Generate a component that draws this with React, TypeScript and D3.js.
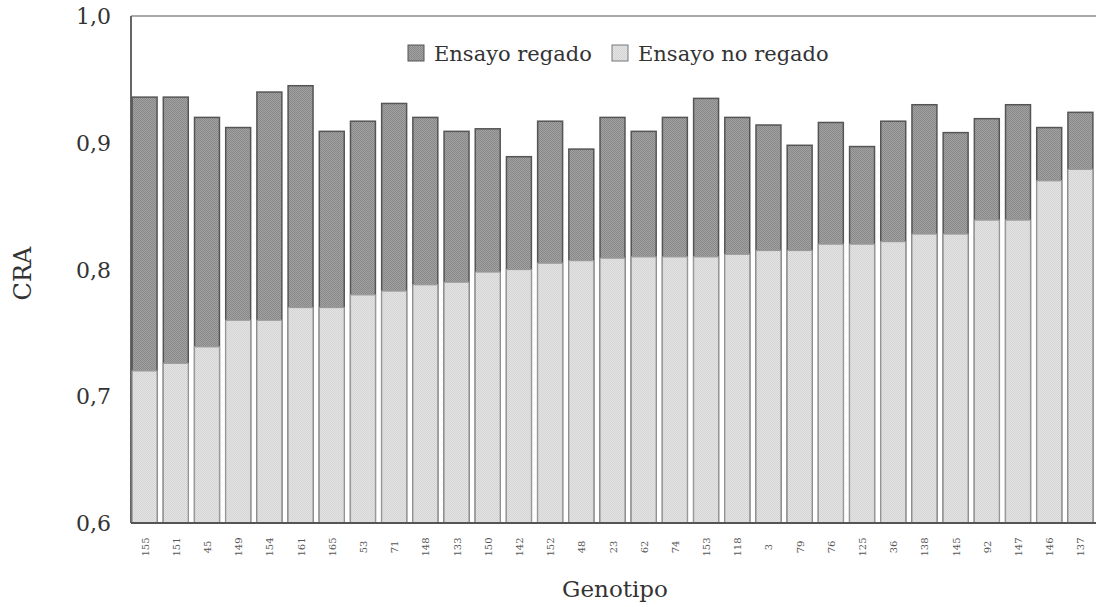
import { scaleBand, scaleLinear } from "d3";

const genotipos = ["155", "151", "45", "149", "154", "161", "165", "53", "71", "148", "133", "150", "142", "152", "48", "23", "62", "74", "153", "118", "3", "79", "76", "125", "36", "138", "145", "92", "147", "146", "137"];
const regado = [0.936, 0.936, 0.92, 0.912, 0.94, 0.945, 0.909, 0.917, 0.931, 0.92, 0.909, 0.911, 0.889, 0.917, 0.895, 0.92, 0.909, 0.92, 0.935, 0.92, 0.914, 0.898, 0.916, 0.897, 0.917, 0.93, 0.908, 0.919, 0.93, 0.912, 0.924];
const noRegado = [0.72, 0.726, 0.739, 0.76, 0.76, 0.77, 0.77, 0.78, 0.783, 0.788, 0.79, 0.798, 0.8, 0.805, 0.807, 0.809, 0.81, 0.81, 0.81, 0.812, 0.815, 0.815, 0.82, 0.82, 0.822, 0.828, 0.828, 0.839, 0.839, 0.87, 0.879];
const yTicks = [0.6, 0.7, 0.8, 0.9, 1.0];

const W = 1096;
const H = 607;
const left = 131;
const top = 16;
const bottom = 523;

export default function App() {
  const x = scaleBand<string>().domain(genotipos).range([129, 1096]).paddingInner(0.2).paddingOuter(0.1);
  const y = scaleLinear().domain([0.6, 1.0]).range([bottom, top]);
  const font = '"DejaVu Serif", serif';

  return (
    <svg width={W} height={H} style={{ position: "absolute", left: 0, top: 0, background: "#fff", fontFamily: font }}>
      <defs>
        <pattern id="dark" width="2" height="2" patternUnits="userSpaceOnUse">
          <rect width="2" height="2" fill="#a2a2a2" />
          <rect width="1" height="1" fill="#888" />
          <rect x="1" y="1" width="1" height="1" fill="#888" />
        </pattern>
        <pattern id="light" width="2" height="2" patternUnits="userSpaceOnUse">
          <rect width="2" height="2" fill="#e4e4e4" />
          <rect width="1" height="1" fill="#d4d4d4" />
          <rect x="1" y="1" width="1" height="1" fill="#d4d4d4" />
        </pattern>
      </defs>

      {/* frame */}
      <line x1={left} x2={W} y1={top} y2={top} stroke="#aaa" strokeWidth={2} />
      <line x1={left} x2={left} y1={top} y2={bottom} stroke="#666" strokeWidth={2} />

      {/* bars */}
      {genotipos.map((g, i) => (
        <g key={g}>
          <rect x={x(g)} y={y(regado[i])} width={x.bandwidth()} height={bottom - y(regado[i])} fill="url(#dark)" stroke="#555" strokeWidth={1.5} />
          <rect x={x(g)} y={y(noRegado[i])} width={x.bandwidth()} height={bottom - y(noRegado[i])} fill="url(#light)" stroke="#999" strokeWidth={1.2} />
        </g>
      ))}

      <line x1={left} x2={W} y1={bottom} y2={bottom} stroke="#555" strokeWidth={2} />

      {/* y axis labels */}
      {yTicks.map((t) => (
        <text key={t} x={111} y={y(t) + 8} textAnchor="end" fontSize={22} fill="#333">
          {t.toFixed(1).replace(".", ",")}
        </text>
      ))}
      <text transform={`translate(31,${(top + bottom) / 2 + 4}) rotate(-90)`} textAnchor="middle" fontSize={24} fill="#333">
        CRA
      </text>

      {/* x tick labels */}
      {genotipos.map((g) => (
        <text
          key={g}
          transform={`translate(${(x(g) ?? 0) + x.bandwidth() / 2 + 4},547) rotate(-90)`}
          textAnchor="middle"
          fontSize={10}
          fill="#555"
        >
          {g}
        </text>
      ))}
      <text x={615} y={597} textAnchor="middle" fontSize={23} fill="#333">
        Genotipo
      </text>

      {/* legend */}
      <rect x={408} y={45} width={16} height={16} fill="url(#dark)" stroke="#555" />
      <text x={434} y={61} fontSize={21} fill="#333">Ensayo regado</text>
      <rect x={612} y={45} width={16} height={16} fill="url(#light)" stroke="#777" />
      <text x={638} y={61} fontSize={21} fill="#333">Ensayo no regado</text>
    </svg>
  );
}
